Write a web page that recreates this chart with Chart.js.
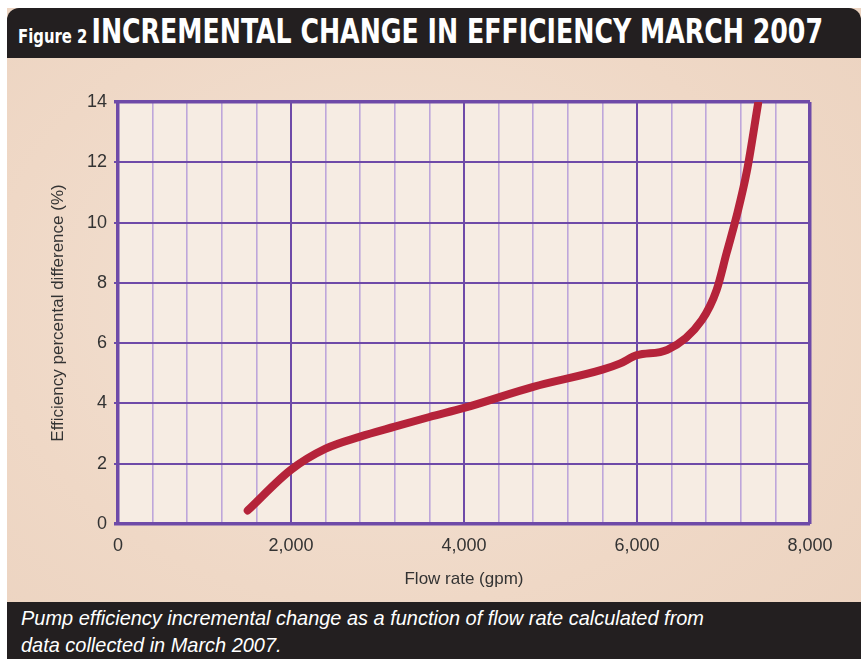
<!DOCTYPE html>
<html>
<head>
<meta charset="utf-8">
<script src="https://cdn.jsdelivr.net/npm/chart.js@4.4.0/dist/chart.umd.min.js"></script>
<style>
  html, body { margin: 0; padding: 0; background: #ffffff; width: 864px; height: 659px; overflow: hidden; }
  #panel { position: absolute; left: 7px; top: 8px; width: 854px; height: 651px;
    background: radial-gradient(ellipse at 45% 45%, #f3e3d6 0%, #efd8c6 60%, #ebd2bf 100%); }
  #titlebar { position: absolute; left: 7px; top: 8px; width: 854px; height: 50px; background: #231f20;
    border-radius: 12px 12px 0 0; }
  #title { position: absolute; left: 18px; top: 11px; color: #fff; white-space: nowrap;
    font-family: "Liberation Sans Narrow", "DejaVu Sans Condensed", "Liberation Sans", sans-serif; font-weight: bold;
    transform-origin: left top; }
  #title .fig { font-size: 20px; }
  #title .main { font-size: 34px; }
  #caption { position: absolute; left: 7px; top: 602px; width: 854px; height: 57px; background: #231f20; }
  #captext { position: absolute; left: 14px; top: 2px; color: #fff; font-style: italic;
    font-family: "Liberation Sans Narrow", "Liberation Sans", sans-serif; font-size: 21px; line-height: 27px;
    transform-origin: left top; white-space: nowrap; }
  #c { position: absolute; left: 0; top: 0; }
</style>
</head>
<body>
<div id="panel"></div>
<div id="titlebar"></div>
<div id="title"><span class="fig">Figure 2</span> <span class="main">INCREMENTAL CHANGE IN EFFICIENCY MARCH 2007</span></div>
<div id="caption"><div id="captext">Pump efficiency incremental change as a function of flow rate calculated from<br>data collected in March 2007.</div></div>
<canvas id="c" width="864" height="659"></canvas>
<script>
// Data
const flowRate = [1500, 2000, 2400, 2800, 3200, 3600, 4000, 4800, 5600, 5800, 6000, 6350, 6750, 6920, 7035, 7150, 7270, 7400];
const efficiencyDiff = [0.45, 1.8, 2.5, 2.9, 3.23, 3.55, 3.85, 4.55, 5.12, 5.32, 5.6, 5.78, 6.77, 7.76, 8.98, 10.2, 11.7, 13.95];
const xTickLabels = ["0", "2,000", "4,000", "6,000", "8,000"];
const yTickLabels = ["0", "2", "4", "6", "8", "10", "12", "14"];

// Fit title and caption widths
(function(){
  const t = document.getElementById('title');
  const w = t.getBoundingClientRect().width;
  t.style.transform = 'scaleX(' + (805 / w) + ')';
  const c = document.getElementById('captext');
  const cw = c.getBoundingClientRect().width;
  c.style.transform = 'scaleX(' + (683 / cw) + ')';
})();

const plotBg = {
  id: 'plotBg',
  beforeDraw(chart) {
    const {ctx, chartArea: a} = chart;
    ctx.save();
    ctx.fillStyle = '#f6ece3';
    ctx.fillRect(a.left, a.top, a.right - a.left, a.bottom - a.top);
    ctx.restore();
  }
};

const majorCol = '#6e4aa8';
const minorCol = '#bea6da';
const tickFont = { family: '"Liberation Sans", Arial, sans-serif', size: 18 };

new Chart(document.getElementById('c'), {
  type: 'line',
  data: {
    datasets: [{
      data: flowRate.map((x, i) => ({ x: x, y: efficiencyDiff[i] })),
      borderColor: '#b5233a',
      borderWidth: 8,
      borderCapStyle: 'round',
      borderJoinStyle: 'round',
      cubicInterpolationMode: 'monotone',
      pointRadius: 0,
      fill: false
    }]
  },
  options: {
    responsive: false,
    animation: false,
    events: [],
    layout: { padding: { left: 48, right: 54, top: 102, bottom: 67 } },
    plugins: { legend: { display: false }, tooltip: { enabled: false } },
    scales: {
      x: {
        type: 'linear', min: 0, max: 8000,
        afterFit(s) { s.height = 68; },
        afterBuildTicks(s) {
          const t = [];
          for (let v = 0; v <= 8000; v += 400) t.push({ value: v });
          s.ticks = t;
        },
        border: { display: false },
        grid: {
          drawTicks: false,
          color: (c) => (c.tick && c.tick.value % 2000 === 0) ? majorCol : minorCol,
          lineWidth: (c) => {
            const v = c.tick ? c.tick.value : -1;
            if (v === 0 || v === 8000) return 3.5;
            return v % 2000 === 0 ? 2 : 1.6;
          }
        },
        ticks: {
          autoSkip: false, maxRotation: 0, padding: 11, color: '#333333', font: tickFont,
          callback: (v) => (v % 2000 === 0) ? xTickLabels[v / 2000] : ''
        },
        title: {
          display: true, text: 'Flow rate (gpm)', color: '#333333',
          font: { family: '"Liberation Sans Narrow", "Liberation Sans", sans-serif', size: 17 },
          padding: { top: 0, bottom: 2 }
        }
      },
      y: {
        min: 0, max: 14,
        afterFit(s) { s.width = 70; },
        afterBuildTicks(s) {
          s.ticks = yTickLabels.map(l => ({ value: Number(l) }));
        },
        border: { display: false },
        grid: {
          drawTicks: true, tickLength: 4,
          color: majorCol,
          lineWidth: (c) => {
            const v = c.tick ? c.tick.value : -1;
            return (v === 0 || v === 14) ? 3.5 : 2;
          }
        },
        ticks: {
          padding: 7, color: '#333333', font: tickFont,
          callback: (v, i) => yTickLabels[i]
        },
        title: {
          display: true, text: 'Efficiency percental difference (%)', color: '#333333',
          font: { family: '"Liberation Sans Narrow", "Liberation Sans", sans-serif', size: 17 },
          padding: { top: 0, bottom: 0 }
        }
      }
    }
  },
  plugins: [plotBg]
});
</script>
</body>
</html>
